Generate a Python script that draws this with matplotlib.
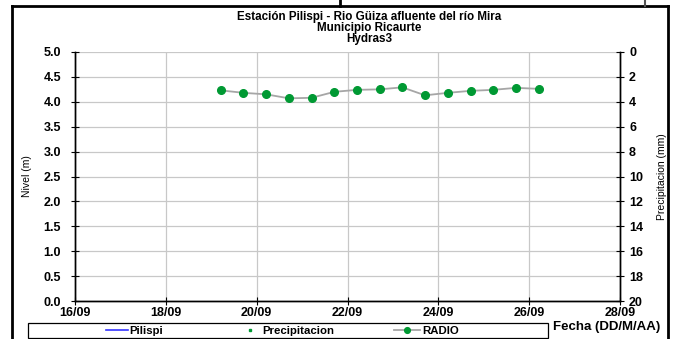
import numpy as np
import pandas as pd
import matplotlib
matplotlib.use("Agg")
import matplotlib.pyplot as plt
import matplotlib.dates as mdates
from matplotlib.lines import Line2D
from matplotlib.patches import Rectangle

plt.rcParams['font.family'] = ['Liberation Sans', 'DejaVu Sans']

# data (readings every 12 h)
radio_times = pd.date_range("2014-09-19 05:00", periods=15, freq="12h")
radio_level = [4.23, 4.18, 4.15, 4.07, 4.08, 4.20, 4.24, 4.25, 4.29, 4.13,
               4.18, 4.22, 4.24, 4.28, 4.26]
pilispi_times = []
pilispi_level = []
precip_times = []
precip_mm = []

title_lines = ["Estación Pilispi - Rio Güiza afluente del río Mira",
               "Municipio Ricaurte", "Hydras3"]

W, H = 677, 339
fig = plt.figure(figsize=(W / 100, H / 100), dpi=100)
ax = fig.add_axes([75 / W, 1 - 301 / H, 545 / W, 249 / H])
ax2 = ax.twinx()

l_pil, = ax.plot(pilispi_times, pilispi_level, color="#3333ff", lw=1.2,
                 label="Pilispi")
l_pre, = ax2.plot(precip_times, precip_mm, ls="none", marker="s", ms=2,
                  color="#009933", label="Precipitacion")
l_rad, = ax.plot(radio_times, radio_level, color="#a6a6a6", lw=1.3,
                 marker="o", ms=5.5, mfc="#009933", mec="#009933",
                 label="RADIO", zorder=3)

ax.set_xlim(pd.Timestamp("2014-09-16"), pd.Timestamp("2014-09-28"))
ax.xaxis.set_major_locator(mdates.DayLocator(interval=2))
ax.xaxis.set_major_formatter(mdates.DateFormatter("%d/%m"))
ax.set_ylim(0, 5)
ax.set_yticks(np.arange(0, 5.01, 0.5))
ax.yaxis.set_major_formatter(matplotlib.ticker.FormatStrFormatter("%.1f"))
ax2.set_ylim(20, 0)
ax2.set_yticks(np.arange(0, 21, 2))

ax.grid(True, color="#c8c8c8", lw=0.9)
ax.set_axisbelow(True)
for a in (ax, ax2):
    a.spines["top"].set_visible(False)
    for s in ("left", "right", "bottom"):
        a.spines[s].set_linewidth(1.0)
    a.tick_params(direction="inout", length=6, width=0.8, labelsize=9)
    for lbl in a.get_xticklabels() + a.get_yticklabels():
        lbl.set_fontweight("bold")
ax.tick_params(axis="x", pad=1)
ax.tick_params(axis="y", pad=7)

ax.set_ylabel("Nivel (m)", fontsize=7.5, labelpad=8)
ax2.set_ylabel("Precipitacion (mm)", fontsize=7.5, labelpad=10)

for txt, ypx in zip(title_lines, [17, 28, 39]):
    fig.text(369 / W, 1 - ypx / H, txt, ha="center", va="center",
             fontsize=8.4, fontweight="bold")

# legend: frame box with three entries at their own positions
fig.add_artist(Rectangle((28 / W, 1 / H), 520 / W, 15 / H, fill=False,
                         ec="black", lw=0.9, transform=fig.transFigure))
entries = [(l_pil, "Pilispi", 106, 1.9, 0.15),
           (l_pre, "Precipitacion", 243, 1.3, 0.4),
           (l_rad, "RADIO", 394, 2.3, 0.2)]
for h, name, xpx, hl, tp in entries:
    fig.legend([h], [name], loc="center left",
               bbox_to_anchor=(xpx / W, 1 - 330.5 / H), frameon=False,
               borderpad=0, borderaxespad=0, handlelength=hl,
               handletextpad=tp, markerscale=0.75,
               prop={"weight": "bold", "size": 8.2})

fig.text(553 / W, 1 - 327 / H, "Fecha (DD/M/AA)", ha="left", va="center",
         fontsize=9.5, fontweight="bold")

# outer frame
kw = dict(color="black", lw=2, transform=fig.transFigure, clip_on=False)
fig.add_artist(Line2D([12 / W, 12 / W], [0, 1 - 6 / H], **kw))
fig.add_artist(Line2D([12 / W, 668 / W], [1 - 6 / H, 1 - 6 / H], **kw))
fig.add_artist(Line2D([668 / W, 668 / W], [0, 1 - 6 / H], **kw))
fig.add_artist(Line2D([340 / W, 340 / W], [1 - 6 / H, 1], **kw))
fig.add_artist(Line2D([645 / W, 645 / W], [1 - 6 / H, 1], color="#555555",
                      lw=1.5, transform=fig.transFigure))

fig.savefig("out.png", dpi=100)
